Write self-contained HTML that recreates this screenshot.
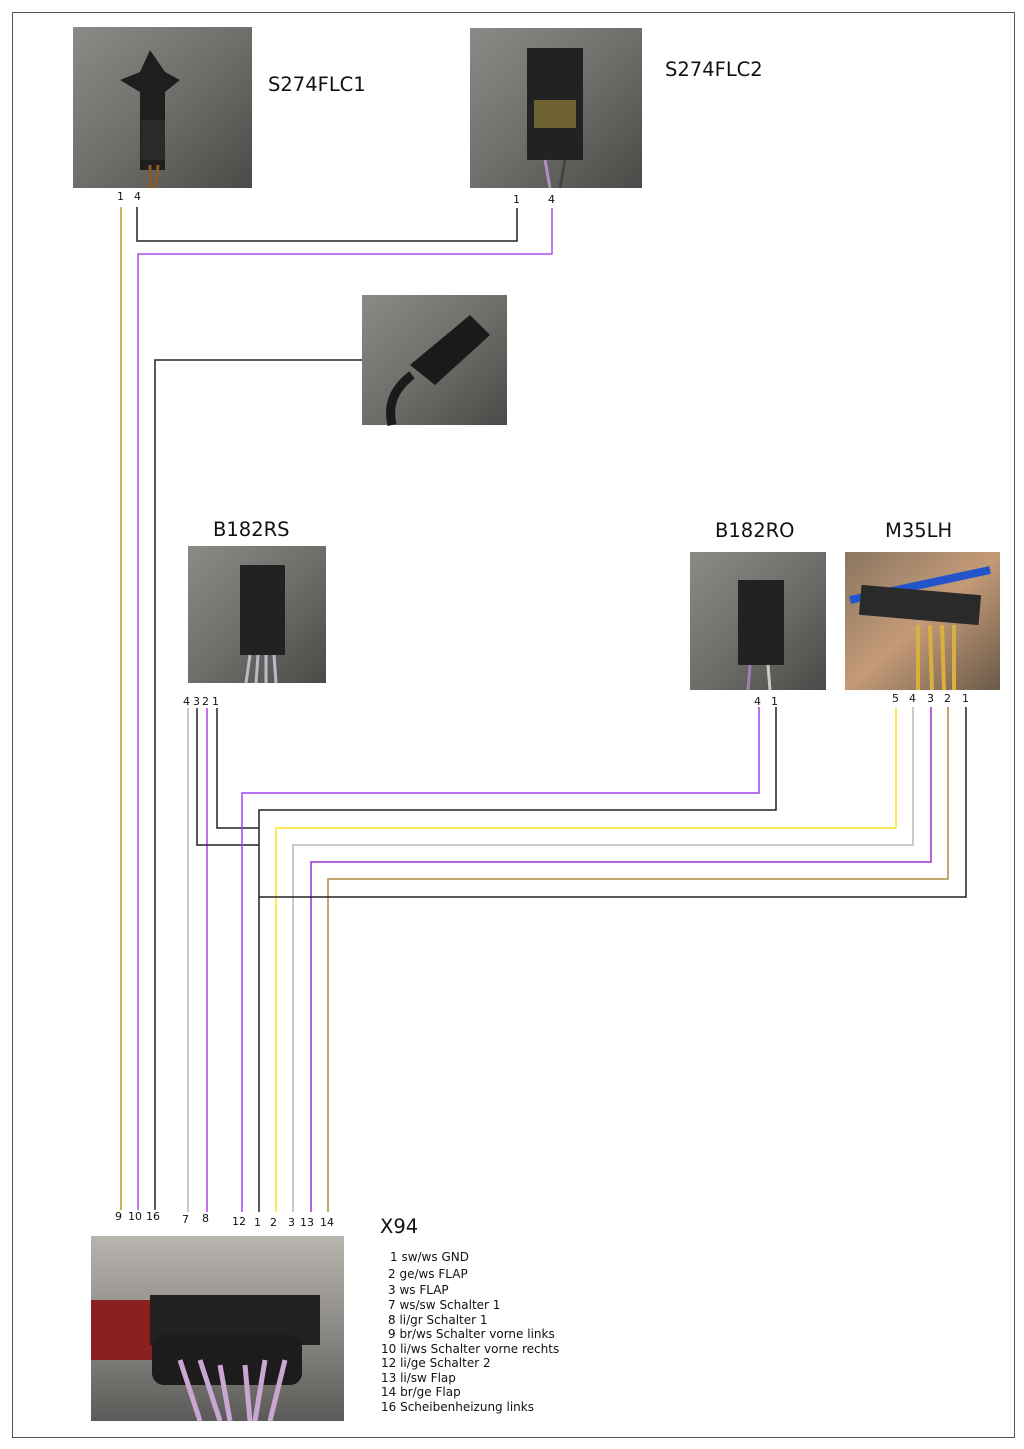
<!DOCTYPE html>
<html><head><meta charset="utf-8"><style>
body{margin:0;background:#fff}
svg{display:block}
text{font-family:"DejaVu Sans","Liberation Sans",sans-serif;fill:#111}
</style></head><body>
<svg width="1024" height="1449" viewBox="0 0 1024 1449" xmlns="http://www.w3.org/2000/svg">
<defs>
<linearGradient id="g1" x1="0" y1="0" x2="1" y2="1"><stop offset="0" stop-color="#8a8a86"/><stop offset="0.5" stop-color="#6e6e6a"/><stop offset="1" stop-color="#4a4a48"/></linearGradient>
<linearGradient id="g3" x1="0" y1="0" x2="0" y2="1"><stop offset="0" stop-color="#b8b4ae"/><stop offset="0.5" stop-color="#8c8a86"/><stop offset="1" stop-color="#5a5a58"/></linearGradient>
<linearGradient id="g4" x1="0" y1="0" x2="1" y2="1"><stop offset="0" stop-color="#8a7660"/><stop offset="0.5" stop-color="#c49a78"/><stop offset="1" stop-color="#6a5a48"/></linearGradient>
</defs>
<rect x="12.5" y="12.5" width="1002" height="1425" fill="none" stroke="#555" stroke-width="1"/>

<rect x="73" y="27" width="179" height="161" fill="url(#g1)"/>
<path d="M120 80 L140 72 L150 50 L165 72 L180 80 L165 92 L165 170 L140 170 L140 92 Z" fill="#1e1e1e"/>
<rect x="141" y="120" width="24" height="40" fill="#2a2a2a"/>
<path d="M150 165 L150 188 M158 165 L156 188" stroke="#8a5a2a" stroke-width="3"/>
<rect x="470" y="28" width="172" height="160" fill="url(#g1)"/>
<rect x="527" y="48" width="56" height="112" fill="#222"/>
<rect x="534" y="100" width="42" height="28" fill="#6e6230"/>
<path d="M545 160 L550 188" stroke="#b090c0" stroke-width="3"/><path d="M565 160 L560 188" stroke="#444" stroke-width="3"/>
<rect x="362" y="295" width="145" height="130" fill="url(#g1)"/>
<path d="M410 365 L470 315 L490 335 L435 385 Z" fill="#1a1a1a"/>
<path d="M412 375 Q385 395 392 425" stroke="#1a1a1a" stroke-width="9" fill="none"/>
<rect x="188" y="546" width="138" height="137" fill="url(#g1)"/>
<rect x="240" y="565" width="45" height="90" fill="#222"/>
<path d="M250 655 L246 683 M258 655 L256 683 M266 655 L266 683 M274 655 L276 683" stroke="#c0b8c8" stroke-width="3"/>
<rect x="690" y="552" width="136" height="138" fill="url(#g1)"/>
<rect x="738" y="580" width="46" height="85" fill="#222"/>
<path d="M750 665 L748 690" stroke="#a080b0" stroke-width="3"/><path d="M768 665 L770 690" stroke="#ccc" stroke-width="3"/>
<rect x="845" y="552" width="155" height="138" fill="url(#g4)"/>
<path d="M850 600 L990 570" stroke="#2255cc" stroke-width="8"/>
<rect x="860" y="590" width="120" height="30" fill="#2a2a2a" transform="rotate(5 920 605)"/>
<path d="M918 625 L918 690 M930 625 L932 690 M942 625 L944 690 M954 625 L954 690" stroke="#d8b040" stroke-width="4"/>
<rect x="91" y="1236" width="253" height="185" fill="url(#g3)"/>
<rect x="91" y="1300" width="70" height="60" fill="#8a2020"/>
<rect x="150" y="1295" width="170" height="50" fill="#222"/>
<rect x="152" y="1335" width="150" height="50" rx="12" fill="#1c1c1c"/>
<path d="M180 1360 L200 1421 M200 1360 L220 1421 M220 1365 L230 1421 M245 1365 L250 1421 M265 1360 L255 1421 M285 1360 L270 1421" stroke="#c8a8d0" stroke-width="5"/>

<text x="268" y="91" font-size="19.5">S274FLC1</text>
<text x="665" y="76" font-size="19.5">S274FLC2</text>
<text x="213" y="536" font-size="19.5">B182RS</text>
<text x="715" y="537" font-size="19.5">B182RO</text>
<text x="885" y="537" font-size="19.5">M35LH</text>
<text x="380" y="1233" font-size="19.5">X94</text>

<g font-size="11">
<text x="117" y="200">1</text><text x="134" y="200">4</text>
<text x="513" y="203">1</text><text x="548" y="203">4</text>
<text x="183" y="705">4</text><text x="193" y="705">3</text><text x="202" y="705">2</text><text x="212" y="705">1</text>
<text x="754" y="705">4</text><text x="771" y="705">1</text>
<text x="892" y="702">5</text><text x="909" y="702">4</text><text x="927" y="702">3</text><text x="944" y="702">2</text><text x="962" y="702">1</text>
<text x="115" y="1220">9</text><text x="128" y="1220">10</text><text x="146" y="1220">16</text>
<text x="182" y="1223">7</text><text x="202" y="1222">8</text>
<text x="232" y="1225">12</text><text x="254" y="1226">1</text><text x="270" y="1226">2</text>
<text x="288" y="1226">3</text><text x="300" y="1226">13</text><text x="320" y="1226">14</text>
</g>
<g font-size="12">
<text x="390" y="1261">1 sw/ws GND</text>
<text x="388" y="1278">2 ge/ws FLAP</text>
<text x="388" y="1294">3 ws FLAP</text>
<text x="388" y="1309">7 ws/sw Schalter 1</text>
<text x="388" y="1324">8 li/gr Schalter 1</text>
<text x="388" y="1338">9 br/ws Schalter vorne links</text>
<text x="381" y="1353">10 li/ws Schalter vorne rechts</text>
<text x="381" y="1367">12 li/ge Schalter 2</text>
<text x="381" y="1382">13 li/sw Flap</text>
<text x="381" y="1396">14 br/ge Flap</text>
<text x="381" y="1411">16 Scheibenheizung links</text>
</g>

<g fill="none" stroke-width="1.5">
<path d="M121 207 V1210" stroke="#c8902a"/>
<path d="M137 207 V241 H517 V208" stroke="#222"/>
<path d="M552 208 V254 H138 V1210" stroke="#b44cf0"/>
<path d="M362 360 H155 V1210" stroke="#222"/>
<path d="M188 708 V1212" stroke="#b8b8b8"/>
<path d="M207 708 V1212" stroke="#b040f0"/>
<path d="M217 708 V828 H259" stroke="#222"/>
<path d="M197 708 V845 H259" stroke="#222"/>
<path d="M759 707 V793 H242 V1212" stroke="#a040f0"/>
<path d="M776 707 V810 H259 V1212" stroke="#222"/>
<path d="M896 707 V828 H276 V1212" stroke="#ffe020"/>
<path d="M913 707 V845 H293 V1212" stroke="#b8b8b8"/>
<path d="M931 707 V862 H311 V1212" stroke="#9a30d0"/>
<path d="M948 707 V879 H328 V1212" stroke="#b08a40"/>
<path d="M966 707 V897 H259" stroke="#222"/>
</g>
</svg>
</body></html>
